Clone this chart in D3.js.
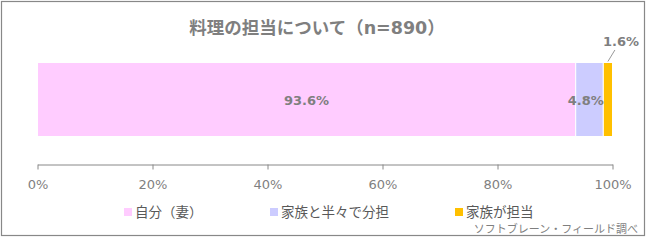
<!DOCTYPE html>
<html>
<head>
<meta charset="utf-8">
<script src="https://cdn.jsdelivr.net/npm/d3@7"></script>
<style>
    body { margin: 0; background: #fff; }
    svg { display: block; font-family: "DejaVu Sans", "Noto Sans CJK JP", sans-serif; }
</style>
</head>
<body>
<div id="chart"></div>
<script>
// data
const categories = ["自分（妻）", "家族と半々で分担", "家族が担当"];
const values = [93.6, 4.8, 1.6];
const colors = ["#ffccff", "#ccccff", "#ffc000"];
const ticks = [0, 20, 40, 60, 80, 100];
const title = "料理の担当について（n=890）";
const source = "ソフトブレーン・フィールド調べ";

const width = 647, height = 241;
const svg = d3.select("#chart").append("svg")
    .attr("width", width)
    .attr("height", height);

// frame
svg.append("rect")
    .attr("x", 1.5).attr("y", 1.5)
    .attr("width", 643).attr("height", 234)
    .attr("fill", "#fff")
    .attr("stroke", "#888")
    .attr("stroke-width", 1.2);

svg.append("text")
    .attr("x", 317).attr("y", 34)
    .attr("text-anchor", "middle")
    .attr("font-size", 17.5)
    .attr("font-weight", "bold")
    .attr("fill", "#7f7f7f")
    .text(title);

const x = d3.scaleLinear().domain([0, 100]).range([37.5, 612.5]);
const barTop = 62.5, barH = 74;

// stack
let acc = 0;
const segs = values.map((v, i) => {
    const s = { start: acc, end: acc + v, v: v, i: i };
    acc += v;
    return s;
});

svg.selectAll(".seg")
    .data(segs)
    .enter().append("rect")
    .attr("class", "seg")
    .attr("x", d => x(d.start))
    .attr("y", barTop)
    .attr("width", d => x(d.end) - x(d.start))
    .attr("height", barH)
    .attr("fill", d => colors[d.i])
    .attr("stroke", "#fff")
    .attr("stroke-width", 1);

// labels
const labelStyle = sel => sel
    .attr("font-size", 13)
    .attr("font-weight", "bold")
    .attr("fill", "#7f7f7f")
    .attr("text-anchor", "middle");

svg.selectAll(".lbl")
    .data(segs.slice(0, 2))
    .enter().append("text")
    .attr("class", "lbl")
    .attr("x", d => d.i == 0 ? x((d.start + d.end) / 2) : x(d.start) + 10)
    .attr("y", barTop + barH / 2 + 5)
    .call(labelStyle)
    .text(d => d.v.toFixed(1) + "%");

const last = segs[2];
svg.append("line")
    .attr("x1", x((last.start + last.end) / 2)).attr("y1", barTop - 1)
    .attr("x2", x((last.start + last.end) / 2) + 7).attr("y2", 50)
    .attr("stroke", "#999").attr("stroke-width", 1);
svg.append("text")
    .attr("x", 621).attr("y", 46)
    .call(labelStyle)
    .text(last.v.toFixed(1) + "%");

// axis
const axis = svg.append("g")
    .attr("transform", "translate(0,164.5)")
    .call(d3.axisBottom(x).tickValues(ticks).tickSize(5).tickSizeOuter(0).tickPadding(10).tickFormat(d => d + "%"));
axis.select(".domain").attr("stroke", "#888");
axis.selectAll(".tick line").attr("stroke", "#888");
axis.selectAll(".tick text")
    .attr("font-size", 13)
    .attr("fill", "#7f7f7f")
    .attr("font-family", "DejaVu Sans, sans-serif");

// legend
const legendX = [124, 270, 455];
const leg = svg.selectAll(".leg")
    .data(categories)
    .enter().append("g")
    .attr("class", "leg")
    .attr("transform", (d, i) => "translate(" + legendX[i] + ",208)");
leg.append("rect")
    .attr("width", 8).attr("height", 8)
    .attr("fill", (d, i) => colors[i]);
leg.append("text")
    .attr("x", 11).attr("y", 9)
    .attr("font-size", 13.5)
    .attr("fill", "#595959")
    .text(d => d);

svg.append("text")
    .attr("x", 638).attr("y", 233)
    .attr("text-anchor", "end")
    .attr("font-size", 11)
    .attr("fill", "#7f7f7f")
    .text(source);
</script>
</body>
</html>
